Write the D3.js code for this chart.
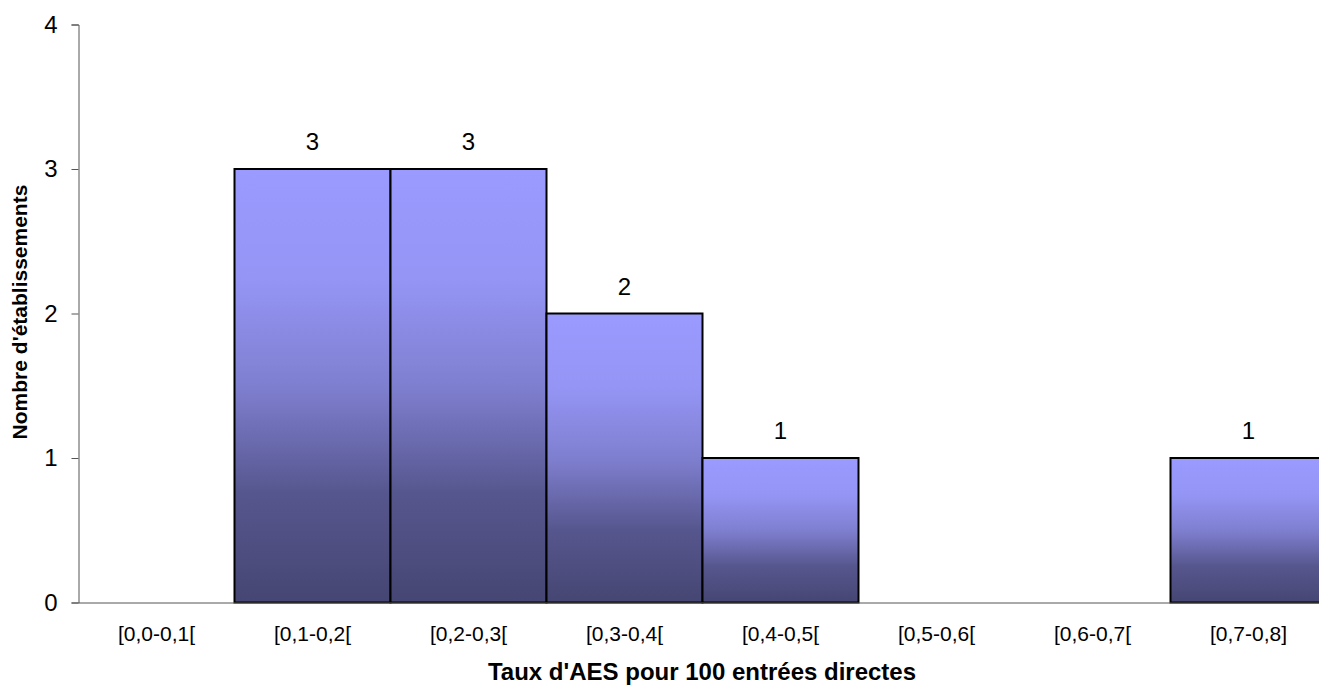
<!DOCTYPE html>
<html><head><meta charset="utf-8">
<script src="https://cdn.jsdelivr.net/npm/d3@7"></script>
<style>body{margin:0;background:#fff}svg{display:block}</style>
</head><body>
<svg id="c" width="1319" height="686"></svg>
<script>
const categories = ["[0,0-0,1[","[0,1-0,2[","[0,2-0,3[","[0,3-0,4[","[0,4-0,5[","[0,5-0,6[","[0,6-0,7[","[0,7-0,8]"];
const counts = [0,3,3,2,1,0,0,1];
const yTicks = [0,1,2,3,4];
const xTitle = "Taux d'AES pour 100 entrées directes";
const yTitle = "Nombre d'établissements";

const svg = d3.select("#c");
const font = "Arial, 'Liberation Sans', sans-serif";
const x = d3.scaleBand().domain(categories).range([78.5, 1326.5]).padding(0);
const y = d3.scaleLinear().domain([0,4]).range([602.5, 24.5]);

const defs = svg.append("defs");
const g = defs.append("linearGradient").attr("id","grad").attr("x1",0).attr("y1",0).attr("x2",0).attr("y2",1);
[[0,"#9a9aff"],[0.25,"#9595f6"],[0.5,"#7f7fd0"],[0.75,"#56568e"],[1,"#464673"]].forEach(([o,c])=>g.append("stop").attr("offset",o).attr("stop-color",c));

const data = categories.map((c,i)=>({c,v:counts[i]})).filter(d=>d.v>0);

// bars
svg.append("g").selectAll("rect").data(data)
  .join("rect")
  .attr("x",d=>x(d.c)).attr("width",x.bandwidth())
  .attr("y",d=>y(d.v)).attr("height",d=>y(0)-y(d.v))
  .attr("fill","url(#grad)").attr("stroke","#000").attr("stroke-width",2);

// value labels
svg.append("g").selectAll("text").data(data)
  .join("text")
  .attr("x",d=>x(d.c)+x.bandwidth()/2).attr("y",d=>y(d.v)-19)
  .attr("text-anchor","middle").attr("font-family",font).attr("font-size",24).attr("fill","#000")
  .text(d=>d.v);

// y axis
const ya = svg.append("g").attr("transform","translate(78.5,0)")
  .call(d3.axisLeft(y).tickValues(yTicks).tickFormat(d3.format("d")).tickSize(7).tickPadding(14));
ya.select(".domain").attr("stroke","#555");
ya.selectAll(".tick line").attr("stroke","#555");
ya.selectAll("text").attr("font-family",font).attr("font-size",24).attr("fill","#000");

// x axis
const xa = svg.append("g").attr("transform","translate(0,602.5)")
  .call(d3.axisBottom(x).tickSize(0).tickPadding(24));
xa.select(".domain").attr("stroke","#555");
xa.selectAll("text").attr("font-family",font).attr("font-size",21).attr("fill","#000");

svg.append("text").attr("x",702).attr("y",680).attr("text-anchor","middle")
  .attr("font-family",font).attr("font-size",24).attr("font-weight","bold").text(xTitle);
svg.append("text").attr("transform","translate(27,312) rotate(-90)").attr("text-anchor","middle")
  .attr("font-family",font).attr("font-size",21).attr("font-weight","bold").text(yTitle);
</script>
</body></html>
